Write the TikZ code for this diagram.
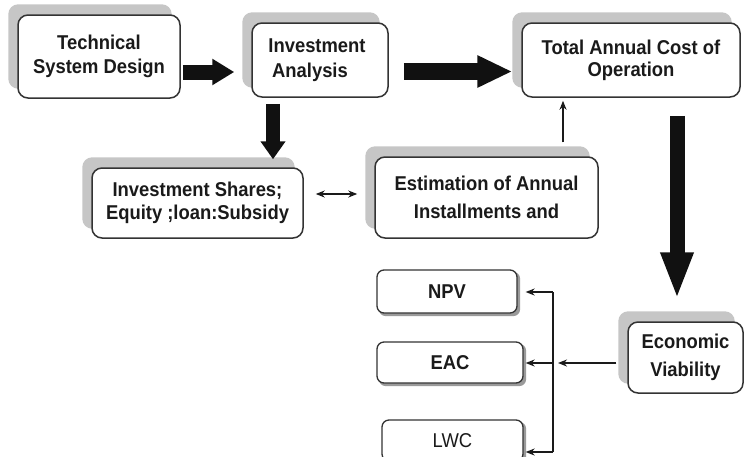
\documentclass[tikz,border=0pt]{standalone}
\usepackage{fontspec}
\setmainfont{Liberation Sans}[FakeStretch=0.92]
\usetikzlibrary{arrows.meta,backgrounds,calc}
\definecolor{shadowgray}{HTML}{C6C6C6}
\definecolor{smallshadow}{HTML}{9A9A9A}
\definecolor{edgegray}{HTML}{333333}
\definecolor{linedark}{HTML}{1A1A1A}
\definecolor{textdark}{HTML}{1A1A1A}
\definecolor{arrowblack}{HTML}{111111}
\tikzset{
  bigbox/.style={draw=edgegray, line width=1.5pt, fill=white, rounded corners=10pt,
    align=center, inner sep=0pt, text=textdark,
    font=\bfseries\fontsize{20}{24}\selectfont},
  smallbox/.style={draw=edgegray, line width=1.3pt, fill=white, rounded corners=7pt,
    align=center, inner sep=0pt, text=textdark,
    font=\bfseries\fontsize{20}{24}\selectfont},
  bigshadow/.style={fill=shadowgray, rounded corners=10pt},
  smallshade/.style={fill=smallshadow, rounded corners=7pt},
  blockarrow/.style={draw=arrowblack, line cap=butt},
  thinarrow/.style={draw=linedark, line width=1.6pt, -{Stealth[length=9pt,width=7pt]}},
  thinline/.style={draw=linedark, line width=1.6pt}
}
\begin{document}
\begin{tikzpicture}[x=1pt,y=1pt]
\useasboundingbox (0,0) rectangle (744,-456);
\clip (0,0) rectangle (744,-456);

% boxes
\node[bigbox, minimum width=162pt, minimum height=83pt] (tech) at (99,-56.5) {Technical\\System Design};
\node[bigbox, minimum width=136pt, minimum height=74pt, font=\bfseries\fontsize{20}{25}\selectfont] (inv) at (320,-60) {Investment\hspace*{6pt}\\Analysis\hspace*{20pt}};
\node[bigbox, minimum width=218pt, minimum height=74pt, font=\bfseries\fontsize{20}{22}\selectfont] (tot) at (631,-60) {Total Annual Cost of\\Operation};
\node[bigbox, minimum width=211pt, minimum height=70pt, font=\bfseries\fontsize{20}{23}\selectfont] (shares) at (197.5,-203) {Investment Shares;\\Equity ;loan:Subsidy};
\node[bigbox, minimum width=223pt, minimum height=81pt, font=\bfseries\fontsize{20}{28}\selectfont] (est) at (486.5,-197.5) {Estimation of Annual\\Installments and};
\node[bigbox, minimum width=115pt, minimum height=71pt, font=\bfseries\fontsize{20}{28}\selectfont] (econ) at (685.5,-357.5) {Economic\\Viability};
\node[smallbox, minimum width=140pt, minimum height=43pt] (npv) at (447,-291.5) {NPV};
\node[smallbox, minimum width=146pt, minimum height=41pt] (eac) at (450,-362.5) {EAC};
\node[smallbox, minimum width=141pt, minimum height=41pt, font=\fontsize{20}{24}\selectfont] (lwc) at (452.5,-440.5) {LWC};

% shadows
\begin{scope}[on background layer]
  \foreach \n in {tech,inv,tot,shares,est,econ}
    \fill[bigshadow] ([shift={(-9,10)}]\n.south west) rectangle ([shift={(-9,10)}]\n.north east);
  \foreach \n in {npv,eac,lwc}
    \fill[smallshade] ([shift={(2.5,-2.5)}]\n.south west) rectangle ([shift={(2.5,-2.5)}]\n.north east);
\end{scope}

% thick block arrows
\draw[blockarrow, line width=15pt, -{Triangle[width=25pt,length=22pt]}]
  ([xshift=2pt,yshift=-15.5pt]tech.east) -- ([xshift=-17pt,yshift=-12pt]inv.west);
\draw[blockarrow, line width=17pt, -{Triangle[width=30pt,length=35pt]}]
  ([xshift=15pt,yshift=-11.5pt]inv.east) -- ([xshift=-9pt,yshift=-11.5pt]tot.west);
\draw[blockarrow, line width=14pt, -{Triangle[width=24pt,length=18pt]}]
  ([xshift=-47pt,yshift=-6pt]inv.south) -- ([xshift=75.5pt,yshift=8pt]shares.north);
\draw[blockarrow, line width=15pt, -{Triangle[width=30pt,length=47pt]}]
  ([xshift=46pt,yshift=-18pt]tot.south) -- ([xshift=-8.5pt,yshift=22pt]econ.north);

% thin connectors
\draw[thinarrow, {Stealth[length=9pt,width=7pt]}-{Stealth[length=9pt,width=7pt]}]
  ([xshift=12pt,yshift=9pt]shares.east) -- ([xshift=-17pt,yshift=3.5pt]est.west);
\draw[thinarrow] ([xshift=76.5pt,yshift=14pt]est.north) -- ([xshift=-68pt,yshift=-3pt]tot.south);

\coordinate (jt) at (553,-292);
\coordinate (jb) at (553,-452);
\coordinate (jm) at (558,-363);
\coordinate (jc) at (553,-363);
\draw[thinline] (jt) -- (jb);
\draw[thinarrow] ([xshift=-11pt,yshift=-5.5pt]econ.west) -- (jm);
\draw[thinarrow, shorten >=8pt] (jt) -- (npv.east |- jt);
\draw[thinarrow, shorten >=2pt] (jc) -- (eac.east |- jc);
\draw[thinarrow, shorten >=2pt] (jb) -- (lwc.east |- jb);
\end{tikzpicture}
\end{document}
